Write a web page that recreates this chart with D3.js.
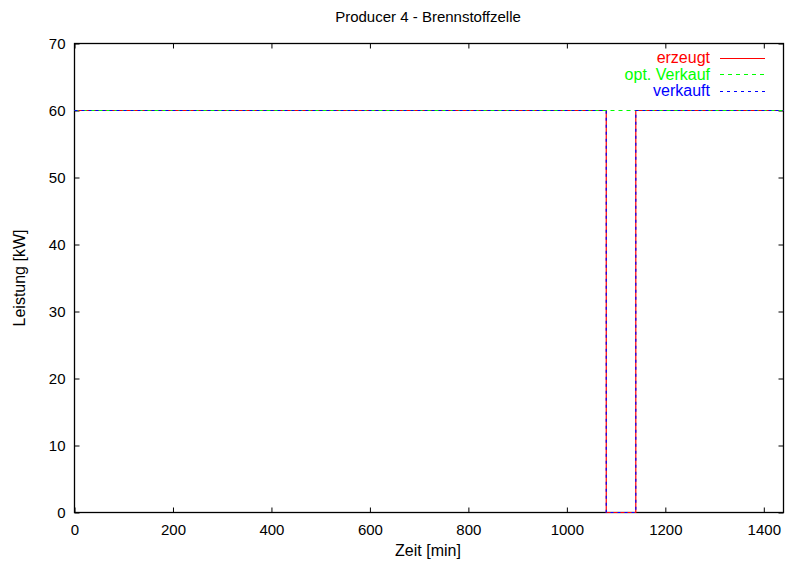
<!DOCTYPE html>
<html>
<head>
<meta charset="utf-8">
<script src="https://cdn.jsdelivr.net/npm/d3@7/dist/d3.min.js"></script>
<style>
  html, body { margin: 0; padding: 0; background: #fff; }
  svg text { font-family: "Liberation Sans", Arial, sans-serif; }
</style>
</head>
<body>
<svg id="chart" width="785" height="567"></svg>
<script>
// Time breakpoints [min] and power values [kW] per series
const timeMin       = [0, 1080, 1080, 1140, 1140, 1440];
const erzeugt       = [60, 60, 0, 0, 60, 60];
const optVerkaufT   = [0, 1440];
const optVerkauf    = [60, 60];
const verkauft      = [60, 60, 0, 0, 60, 60];

const xTicks = [0, 200, 400, 600, 800, 1000, 1200, 1400];
const yTicks = [0, 10, 20, 30, 40, 50, 60, 70];

const seriesNames  = ["erzeugt", "opt. Verkauf", "verkauft"];
const seriesColors = ["#ff0000", "#00ff00", "#0000ff"];
const seriesDash   = [null, "4,4", "3,4"];

const svg = d3.select("#chart");

const x = d3.scaleLinear().domain([0, 1440]).range([74.5, 783.5]);
const y = d3.scaleLinear().domain([0, 70]).range([512.5, 43.5]);

const g = svg.append("g");
const tickLen = 5;

// bottom axis with inward ticks
g.append("g").attr("transform", `translate(0,${y(0)})`)
  .call(d3.axisBottom(x).tickValues(xTicks).tickSize(-tickLen).tickPadding(12).tickFormat(d3.format("d")));
// top mirror ticks
g.append("g").attr("transform", `translate(0,${y(70)})`)
  .call(d3.axisTop(x).tickValues(xTicks).tickSize(-tickLen).tickFormat(""));
// left axis
g.append("g").attr("transform", `translate(${x(0)},0)`)
  .call(d3.axisLeft(y).tickValues(yTicks).tickSize(-tickLen).tickPadding(9).tickFormat(d3.format("d")));
// right mirror ticks
g.append("g").attr("transform", `translate(${x(1440)},0)`)
  .call(d3.axisRight(y).tickValues(yTicks).tickSize(-tickLen).tickFormat(""));

g.selectAll(".domain").remove();
g.selectAll(".tick line").attr("stroke", "#000").attr("stroke-width", 1);
g.selectAll(".tick text").attr("font-size", 15).attr("fill", "#000")
  .attr("font-family", "'Liberation Sans', Arial, sans-serif");

// frame
svg.append("rect")
  .attr("x", x(0)).attr("y", y(70))
  .attr("width", x(1440) - x(0)).attr("height", y(0) - y(70))
  .attr("fill", "none").attr("stroke", "#000").attr("stroke-width", 1.3);

// series lines
const seriesData = [
  timeMin.map((t, i) => [t, erzeugt[i]]),
  optVerkaufT.map((t, i) => [t, optVerkauf[i]]),
  timeMin.map((t, i) => [t, verkauft[i]])
];
const line = d3.line().x(d => x(d[0])).y(d => y(d[1]));
seriesData.forEach((d, i) => {
  svg.append("path").datum(d)
    .attr("d", line)
    .attr("fill", "none")
    .attr("stroke", seriesColors[i])
    .attr("stroke-width", 1.2)
    .attr("stroke-dasharray", seriesDash[i]);
});

// legend
seriesNames.forEach((name, i) => {
  const ly = 57.5 + i * 16.5;
  svg.append("text")
    .attr("x", 710).attr("y", ly + 5.5)
    .attr("text-anchor", "end")
    .attr("font-size", 16)
    .attr("fill", seriesColors[i])
    .text(name);
  svg.append("line")
    .attr("x1", 720).attr("x2", 765)
    .attr("y1", Math.round(ly) + 0.5).attr("y2", Math.round(ly) + 0.5)
    .attr("stroke", seriesColors[i])
    .attr("stroke-width", 1.2)
    .attr("stroke-dasharray", seriesDash[i]);
});

// title and axis labels
svg.append("text").attr("x", 428).attr("y", 22)
  .attr("text-anchor", "middle").attr("font-size", 15).text("Producer 4 - Brennstoffzelle");
svg.append("text").attr("x", 428).attr("y", 556)
  .attr("text-anchor", "middle").attr("font-size", 16).text("Zeit [min]");
svg.append("text")
  .attr("transform", `translate(25,${(y(0) + y(70)) / 2}) rotate(-90)`)
  .attr("text-anchor", "middle").attr("font-size", 16).text("Leistung [kW]");
</script>
</body>
</html>
